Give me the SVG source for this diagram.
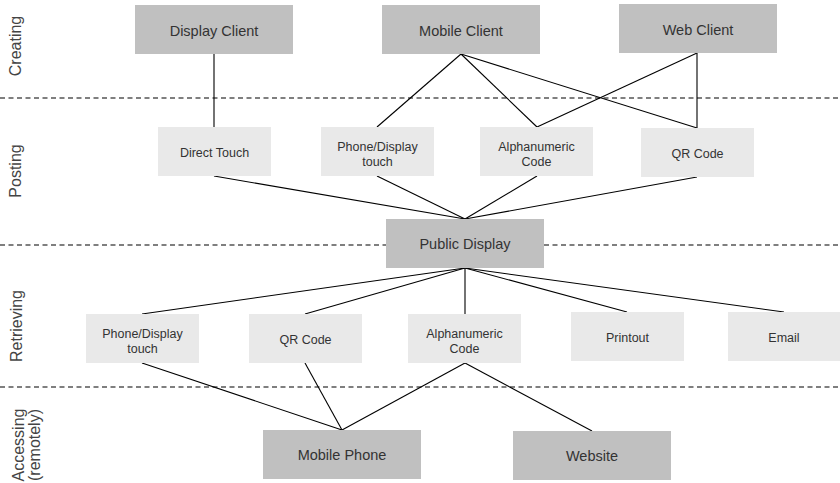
<svg xmlns="http://www.w3.org/2000/svg" width="840" height="483" viewBox="0 0 840 483">
<style>
.big rect{fill:#c0c0c0}
.small rect{fill:#e9e9e9}
text{font-family:"Liberation Sans",Arial,sans-serif;fill:#333;text-anchor:middle}
.big text{font-size:14.5px}
.small text{font-size:12.5px}
.lane{font-size:16px;fill:#444}
.dash{stroke:#555;stroke-width:1.3;stroke-dasharray:5 3.5;fill:none}
#connectors line{stroke:#000;stroke-width:1.1}
</style>
<rect width="840" height="483" fill="#fff"/>
<g id="lanes">
<line class="dash" x1="0" y1="98" x2="840" y2="98"/>
<line class="dash" x1="0" y1="245" x2="840" y2="245"/>
<line class="dash" x1="0" y1="387" x2="840" y2="387"/>
<text class="lane" transform="translate(21,46) rotate(-90)">Creating</text>
<text class="lane" transform="translate(21,171) rotate(-90)">Posting</text>
<text class="lane" transform="translate(22,326) rotate(-90)">Retrieving</text>
<text class="lane" transform="translate(24,445) rotate(-90)">Accessing</text>
<text class="lane" transform="translate(40,445) rotate(-90)">(remotely)</text>
</g>
<g id="connectors">
<line x1="214" y1="54" x2="214" y2="127"/>
<line x1="461" y1="54" x2="377" y2="127"/>
<line x1="461" y1="54" x2="537" y2="127"/>
<line x1="461" y1="54" x2="697" y2="128"/>
<line x1="697" y1="53" x2="537" y2="127"/>
<line x1="697" y1="53" x2="697" y2="128"/>
<line x1="214" y1="176" x2="465" y2="219"/>
<line x1="377" y1="176" x2="465" y2="219"/>
<line x1="537" y1="176" x2="465" y2="219"/>
<line x1="697" y1="177" x2="465" y2="219"/>
<line x1="465" y1="268" x2="142" y2="314"/>
<line x1="465" y1="268" x2="305" y2="314"/>
<line x1="465" y1="268" x2="465" y2="314"/>
<line x1="465" y1="268" x2="627" y2="312"/>
<line x1="465" y1="268" x2="784" y2="312"/>
<line x1="142" y1="363" x2="342" y2="430"/>
<line x1="305" y1="363" x2="342" y2="430"/>
<line x1="465" y1="363" x2="342" y2="430"/>
<line x1="465" y1="363" x2="592" y2="431"/>
</g>
<g id="display-client" class="big"><rect x="135" y="5" width="158" height="49"/><text x="214" y="36">Display Client</text></g>
<g id="mobile-client" class="big"><rect x="382" y="5" width="158" height="49"/><text x="461" y="36">Mobile Client</text></g>
<g id="web-client" class="big"><rect x="619" y="4" width="158" height="49"/><text x="698" y="35">Web Client</text></g>
<g id="post-direct-touch" class="small"><rect x="158" y="127" width="113" height="49"/><text x="214.5" y="157">Direct Touch</text></g>
<g id="post-phone-display" class="small"><rect x="321" y="127" width="113" height="49"/><text x="377.5" y="151">Phone/Display</text><text x="377.5" y="165.5">touch</text></g>
<g id="post-alphanumeric" class="small"><rect x="480" y="127" width="113" height="49"/><text x="536.5" y="151">Alphanumeric</text><text x="536.5" y="165.5">Code</text></g>
<g id="post-qr" class="small"><rect x="641" y="128" width="113" height="49"/><text x="697.5" y="158">QR Code</text></g>
<g id="public-display" class="big"><rect x="386" y="219" width="158" height="49"/><text x="465" y="249">Public Display</text></g>
<g id="ret-phone-display" class="small"><rect x="86" y="314" width="113" height="49"/><text x="142.5" y="338">Phone/Display</text><text x="142.5" y="352.5">touch</text></g>
<g id="ret-qr" class="small"><rect x="249" y="314" width="113" height="49"/><text x="305.5" y="344">QR Code</text></g>
<g id="ret-alphanumeric" class="small"><rect x="408" y="314" width="113" height="49"/><text x="464.5" y="338">Alphanumeric</text><text x="464.5" y="352.5">Code</text></g>
<g id="ret-printout" class="small"><rect x="571" y="312" width="113" height="49"/><text x="627.5" y="342">Printout</text></g>
<g id="ret-email" class="small"><rect x="728" y="312" width="113" height="49"/><text x="784" y="342">Email</text></g>
<g id="mobile-phone" class="big"><rect x="263" y="430" width="158" height="49"/><text x="342" y="460">Mobile Phone</text></g>
<g id="website" class="big"><rect x="513" y="431" width="158" height="49"/><text x="592" y="461">Website</text></g>
</svg>
